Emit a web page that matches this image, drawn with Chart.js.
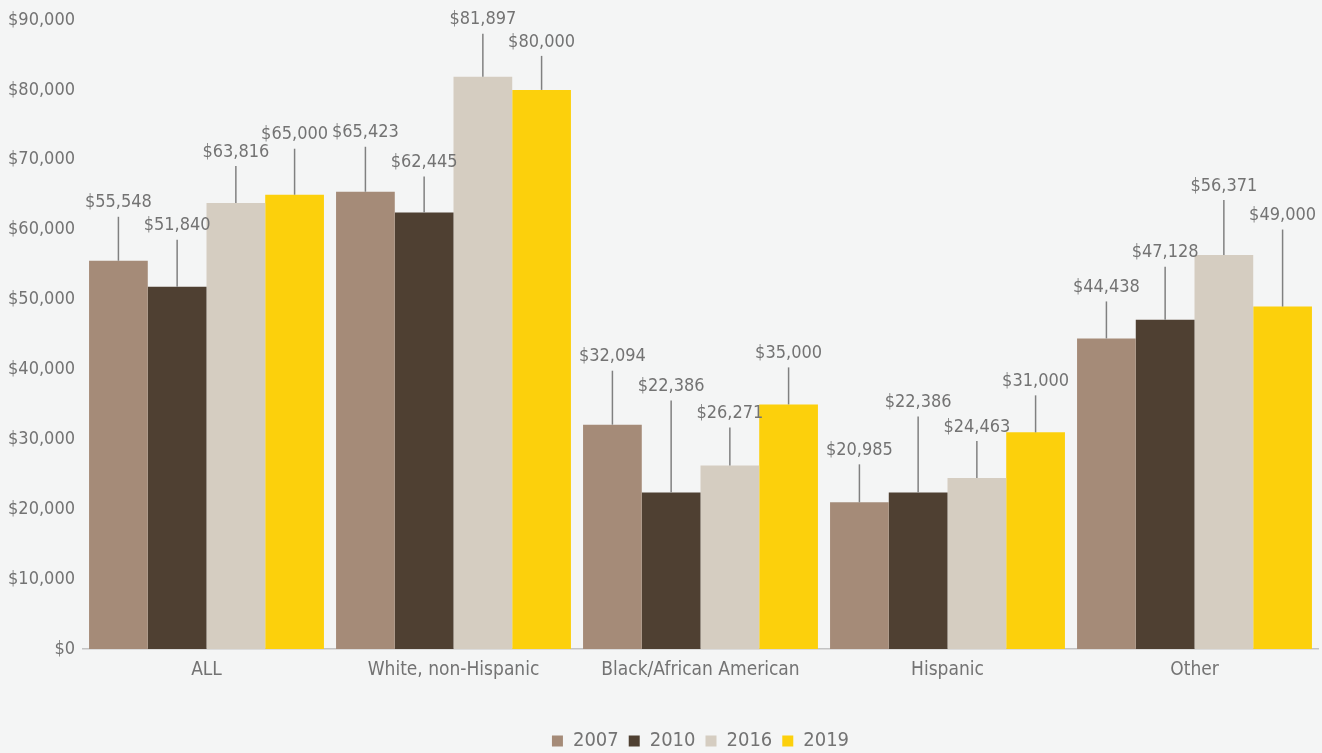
<!DOCTYPE html>
<html>
<head>
<meta charset="utf-8">
<title>Median income by group</title>
<script src="https://cdn.jsdelivr.net/npm/chart.js@4.4.1/dist/chart.umd.min.js"></script>
<style>
    html, body { margin: 0; padding: 0; background: #f4f5f5; overflow: hidden; }
    #chart-wrap { width: 1322px; height: 761px; position: relative; }
</style>
</head>
<body>
<div id="chart-wrap"><canvas id="incomeChart"></canvas></div>
<script>
const groups = ['ALL', 'White, non-Hispanic', 'Black/African American', 'Hispanic', 'Other'];
const years = ['2007', '2010', '2016', '2019'];
const income2007 = [55548, 65423, 32094, 20985, 44438];
const income2010 = [51840, 62445, 22386, 22386, 47128];
const income2016 = [63816, 81897, 26271, 24463, 56371];
const income2019 = [65000, 80000, 35000, 31000, 49000];
const yTicks = [0, 10000, 20000, 30000, 40000, 50000, 60000, 70000, 80000, 90000];

const yearColors = ['#a58b78', '#4f4032', '#d5cdc1', '#fcd00c'];
const textGrey = '#737373';
const fontStack = "'DejaVu Sans Condensed', 'Liberation Sans Narrow', sans-serif";

// how high each callout label sits above its bar (px), one row per year
const calloutLift = [
    [58, 59, 68, 52, 51],
    [61, 50, 106, 90, 67],
    [51, 57, 52, 51, 69],
    [60, 48, 51, 51, 91]
];

const money = v => '$' + v.toLocaleString('en-US');

Chart.defaults.font.family = fontStack;
Chart.defaults.font.size = 18;
Chart.defaults.color = textGrey;

// value labels with a thin leader line down to the bar top
const calloutPlugin = {
    id: 'callouts',
    afterDatasetsDraw(chart) {
        const ctx = chart.ctx;
        ctx.save();
        ctx.font = '18px ' + fontStack;
        ctx.textAlign = 'center';
        ctx.textBaseline = 'middle';
        chart.data.datasets.forEach((ds, di) => {
            const meta = chart.getDatasetMeta(di);
            meta.data.forEach((bar, i) => {
                const labelY = bar.y - calloutLift[di][i];
                ctx.strokeStyle = '#808080';
                ctx.lineWidth = 1.5;
                ctx.beginPath();
                ctx.moveTo(bar.x, bar.y);
                ctx.lineTo(bar.x, labelY + 14);
                ctx.stroke();
                ctx.fillStyle = textGrey;
                ctx.fillText(money(ds.data[i]), bar.x, labelY);
            });
        });
        ctx.restore();
    }
};

const seriesValues = [income2007, income2010, income2016, income2019];

const ctx = document.getElementById('incomeChart').getContext('2d');
const incomeChart = new Chart(ctx, {
    type: 'bar',
    data: {
        labels: groups,
        datasets: years.map((y, k) => ({
            label: y,
            data: seriesValues[k],
            backgroundColor: yearColors[k],
            borderWidth: 0,
            categoryPercentage: 0.951,
            barPercentage: 1.0
        }))
    },
    options: {
        responsive: true,
        maintainAspectRatio: false,
        animation: false,
        layout: {
            padding: { top: 20, right: 4, left: 0, bottom: 0 }
        },
        plugins: {
            legend: {
                position: 'bottom',
                fullSize: false, // centre under the plot area rather than the canvas
                labels: {
                    boxWidth: 11,
                    boxHeight: 11,
                    padding: 10,
                    color: textGrey,
                    font: { size: 20 }
                }
            },
            tooltip: { enabled: false }
        },
        scales: {
            x: {
                grid: { display: false, drawTicks: false },
                border: { display: true, color: '#c3c3c3', width: 1.5 },
                ticks: { padding: 10, color: textGrey, font: { size: 19 } },
                afterFit(scale) { scale.height = 72; }
            },
            y: {
                min: 0,
                max: 90000,
                afterBuildTicks(scale) { scale.ticks = yTicks.map(v => ({ value: v })); },
                grid: { display: false, drawTicks: false },
                border: { display: false },
                ticks: {
                    padding: 8,
                    color: textGrey,
                    callback: v => money(v)
                },
                afterFit(scale) { scale.width = 83; }
            }
        }
    },
    plugins: [calloutPlugin]
});
</script>
</body>
</html>
